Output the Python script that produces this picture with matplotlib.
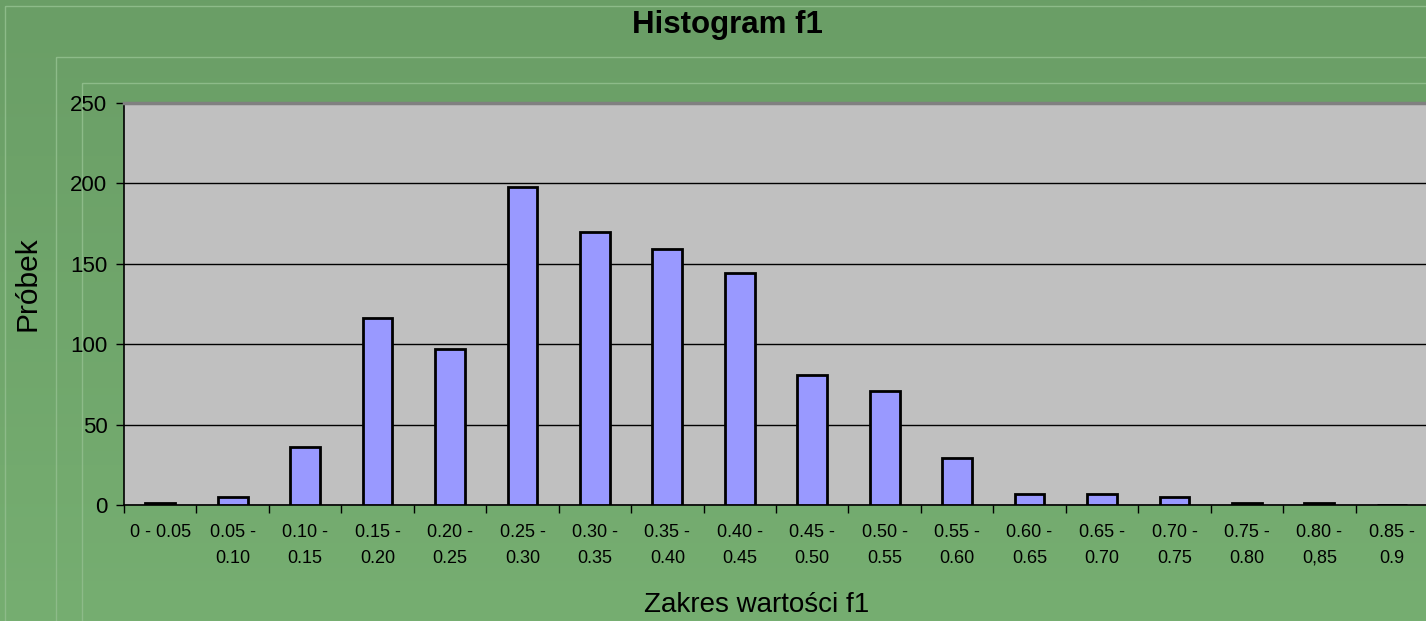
import numpy as np
import matplotlib.pyplot as plt
from matplotlib.patches import Rectangle

plt.rcParams['font.family'] = ['Liberation Sans', 'DejaVu Sans']

# histogram data
bins = ['0 - 0.05', '0.05 -\n0.10', '0.10 -\n0.15', '0.15 -\n0.20', '0.20 -\n0.25',
        '0.25 -\n0.30', '0.30 -\n0.35', '0.35 -\n0.40', '0.40 -\n0.45', '0.45 -\n0.50',
        '0.50 -\n0.55', '0.55 -\n0.60', '0.60 -\n0.65', '0.65 -\n0.70', '0.70 -\n0.75',
        '0.75 -\n0.80', '0.80 -\n0,85', '0.85 -\n0.9']
counts = [1, 5, 36, 116, 97, 198, 170, 159, 144, 81, 71, 29, 7, 7, 5, 1, 1, 0]
y_ticks = [0, 50, 100, 150, 200, 250]

W, H = 1426, 621
fig = plt.figure(figsize=(W / 100, H / 100), dpi=100)

# green background with a soft vertical gradient (darker at the top)
bg = fig.add_axes([0, 0, 1, 1], zorder=-10)
grad = np.linspace(0, 1, 256).reshape(-1, 1)
top_c = np.array([106, 158, 102]) / 255
bot_c = np.array([118, 174, 113]) / 255
img = top_c[None, None, :] * (1 - grad[:, :, None]) + bot_c[None, None, :] * grad[:, :, None]
bg.imshow(img, aspect='auto', extent=[0, W, H, 0])
bg.set_xlim(0, W)
bg.set_ylim(H, 0)
bg.axis('off')
# faint frame lines of the chart area
for (x0, y0) in [(5, 6), (56, 57), (82, 83)]:
    bg.add_patch(Rectangle((x0, y0), W - x0 + 10, H - y0 + 10, fill=False,
                           edgecolor='#8dbb89', linewidth=1))

left, right, top, bottom = 124, 1428, 103, 505
ax = fig.add_axes([left / W, 1 - bottom / H, (right - left) / W, (bottom - top) / H])
ax.set_facecolor('#c0c0c0')

x = np.arange(len(counts))
ax.bar(x, counts, width=0.41, color='#9999ff', edgecolor='black', linewidth=2, zorder=3)

ax.set_xlim(-0.5, len(counts) - 0.5)
ax.set_ylim(0, 250)
ax.set_yticks(y_ticks)
ax.set_yticklabels([str(v) for v in y_ticks], fontsize=16)
ax.yaxis.grid(True, color='black', linewidth=1)
ax.set_axisbelow(True)

ax.set_xticks(np.arange(len(counts) + 1) - 0.5)
ax.set_xticklabels([])
ax.set_xticks(x, minor=True)
ax.set_xticklabels(bins, minor=True, fontsize=13, linespacing=1.65)
ax.tick_params(axis='x', which='minor', length=0, pad=14)
ax.tick_params(axis='x', which='major', length=6, width=1, direction='out')
ax.tick_params(axis='y', length=6, width=1, direction='out', pad=6)

ax.spines['right'].set_visible(False)
ax.spines['top'].set_color('#808080')
ax.spines['top'].set_linewidth(2.5)
ax.spines['left'].set_linewidth(1.2)
ax.spines['bottom'].set_linewidth(1.2)

fig.text(727 / W, 1 - 25 / H, 'Histogram f1', ha='center', va='center',
         fontsize=22.5, fontweight='bold')
fig.text(27 / W, 1 - 284 / H, 'Próbek', ha='center', va='center',
         rotation=90, fontsize=21.5)
fig.text(757 / W, 1 - 605 / H, 'Zakres wartości f1', ha='center', va='center',
         fontsize=20)

fig.savefig('out.png', dpi=100)
